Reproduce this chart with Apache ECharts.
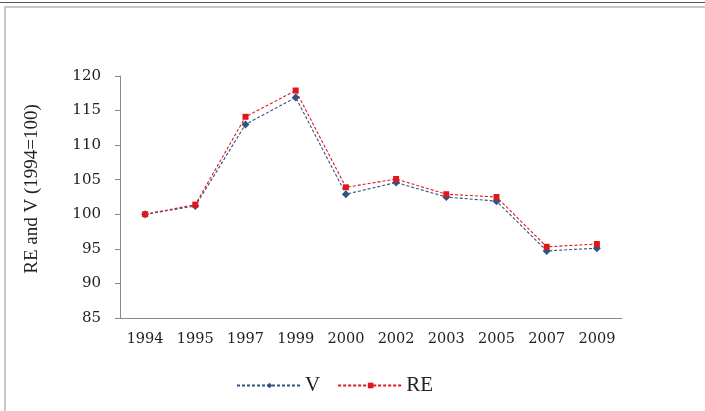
<!DOCTYPE html>
<html>
<head>
<meta charset="utf-8">
<script src="https://cdn.jsdelivr.net/npm/echarts@6/dist/echarts.min.js"></script>
<style>
html, body { margin: 0; padding: 0; background: #fff; }
#main { width: 705px; height: 411px; }
</style>
</head>
<body>
<div id="main"></div>
<script>
var years = ['1994', '1995', '1997', '1999', '2000', '2002', '2003', '2005', '2007', '2009'];
var vValues = [100, 101.2, 113.0, 116.9, 102.9, 104.6, 102.5, 101.9, 94.7, 95.1];
var reValues = [100, 101.4, 114.1, 117.9, 103.9, 105.1, 102.9, 102.5, 95.3, 95.7];

var serif = '"Liberation Serif", "DejaVu Serif", serif';
var tickFont = '"DejaVu Serif", serif';

var myChart = echarts.init(document.getElementById('main'));

var option = {
    backgroundColor: '#fff',
    animation: false,
    graphic: [
        // frame lines of the scanned figure
        { type: 'rect', shape: { x: 0, y: 2, width: 705, height: 1 }, style: { fill: '#555' } },
        { type: 'rect', shape: { x: 4, y: 6, width: 701, height: 2 }, style: { fill: '#c8c8c8' } },
        { type: 'rect', shape: { x: 4, y: 6, width: 2, height: 405 }, style: { fill: '#c8c8c8' } }
    ],
    grid: {
        left: 120,
        right: 83,
        top: 76,
        bottom: 93
    },
    legend: {
        data: ['V', 'RE'],
        left: 231,
        top: 370,
        itemWidth: 65,
        itemHeight: 7,
        itemGap: 17,
        textStyle: {
            fontFamily: serif,
            fontSize: 21,
            color: '#222',
            padding: [0, 0, 0, -2]
        }
    },
    xAxis: {
        type: 'category',
        data: years,
        axisLine: { lineStyle: { color: '#8a8a8a', width: 1 } },
        axisTick: { length: 5, lineStyle: { color: '#8a8a8a' } },
        axisLabel: {
            margin: 14,
            fontFamily: tickFont,
            fontSize: 14.5,
            color: '#222'
        }
    },
    yAxis: {
        type: 'value',
        min: 85,
        max: 120,
        interval: 5,
        name: 'RE and V (1994=100)',
        nameLocation: 'middle',
        nameGap: 78,
        nameRotate: 90,
        nameTextStyle: {
            fontFamily: serif,
            fontSize: 19,
            color: '#222',
            padding: [0, 0, 0, 16]
        },
        axisLine: { show: true, lineStyle: { color: '#8a8a8a', width: 1 } },
        axisTick: { show: true, length: 5, lineStyle: { color: '#8a8a8a' } },
        splitLine: { show: false },
        axisLabel: {
            margin: 19,
            fontFamily: tickFont,
            fontSize: 15,
            color: '#222'
        }
    },
    series: [{
        name: 'V',
        type: 'line',
        data: vValues,
        symbol: 'diamond',
        symbolSize: 8,
        itemStyle: { color: '#2f5382' },
        lineStyle: { color: '#2f5382', width: 1.1, type: [3, 2] },
        z: 2
    }, {
        name: 'RE',
        type: 'line',
        data: reValues,
        symbol: 'rect',
        symbolSize: 6,
        itemStyle: { color: '#e3161c' },
        lineStyle: { color: '#e3161c', width: 1.1, type: [3, 2] },
        z: 3
    }]
};

myChart.setOption(option);
</script>
</body>
</html>
